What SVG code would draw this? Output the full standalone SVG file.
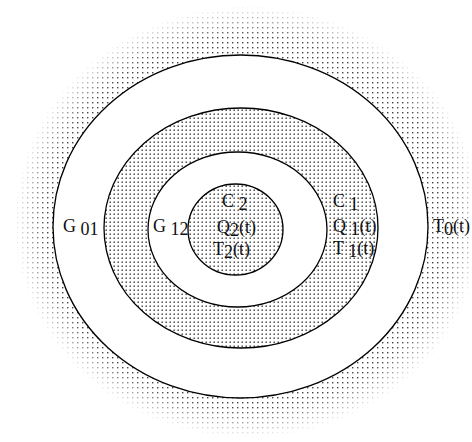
<svg xmlns="http://www.w3.org/2000/svg" width="472" height="442" viewBox="0 0 472 442">
<style>
.ring{stroke:#000;stroke-width:1.3}
.lbl{font-family:"Liberation Serif","Times New Roman",serif;font-size:18px;fill:#111}
</style>
<defs>
<pattern id="sparse" width="5" height="5" patternUnits="userSpaceOnUse">
<rect width="5" height="5" fill="#fff"/>
<rect x="2" y="2" width="1.4" height="1.4" fill="#444"/>
</pattern>
<pattern id="dense" width="4" height="4" patternUnits="userSpaceOnUse">
<rect width="4" height="4" fill="#fff"/>
<rect x="1.5" y="1.5" width="1.4" height="1.4" fill="#333"/>
</pattern>
<radialGradient id="fade" cx="0.5" cy="0.5" r="0.5">
<stop offset="0.86" stop-color="#fff"/>
<stop offset="1" stop-color="#000"/>
</radialGradient>
<mask id="fuzz" maskUnits="userSpaceOnUse" x="0" y="0" width="472" height="442">
<ellipse cx="248" cy="222" rx="234" ry="216" fill="url(#fade)"/>
</mask>
</defs>
<rect width="472" height="442" fill="#fff"/>
<g id="outer-region">
<ellipse cx="248" cy="222" rx="234" ry="216" fill="url(#sparse)" mask="url(#fuzz)"/>
</g>
<g id="ring0">
<ellipse class="ring" cx="240.5" cy="226.5" rx="187.5" ry="171.5" fill="#fff"/>
</g>
<g id="ring1">
<ellipse class="ring" cx="241" cy="228" rx="137" ry="120" fill="url(#dense)"/>
</g>
<g id="ring12">
<ellipse class="ring" cx="237.5" cy="229.5" rx="89.5" ry="77.5" fill="#fff"/>
</g>
<g id="core">
<ellipse class="ring" cx="235.5" cy="229.5" rx="47.5" ry="45.5" fill="url(#dense)"/>
</g>
<g id="labels">
<text class="lbl" x="63" y="232">G <tspan dy="3">01</tspan></text>
<text class="lbl" x="153" y="232">G <tspan dy="3">12</tspan></text>
<text class="lbl" x="222" y="207">C <tspan dy="3">2</tspan></text>
<text class="lbl" x="217" y="233">Q<tspan dy="3">2</tspan><tspan dy="-3">(t)</tspan></text>
<text class="lbl" x="213" y="255">T<tspan dy="3">2</tspan><tspan dy="-3">(t)</tspan></text>
<text class="lbl" x="333" y="207">C <tspan dy="3">1</tspan></text>
<text class="lbl" x="333" y="232">Q <tspan dy="3">1</tspan><tspan dy="-3">(t)</tspan></text>
<text class="lbl" x="333" y="254">T <tspan dy="3">1</tspan><tspan dy="-3">(t)</tspan></text>
<text class="lbl" x="433" y="232">T<tspan dy="3">0</tspan><tspan dy="-3">(t)</tspan></text>
</g>
</svg>
